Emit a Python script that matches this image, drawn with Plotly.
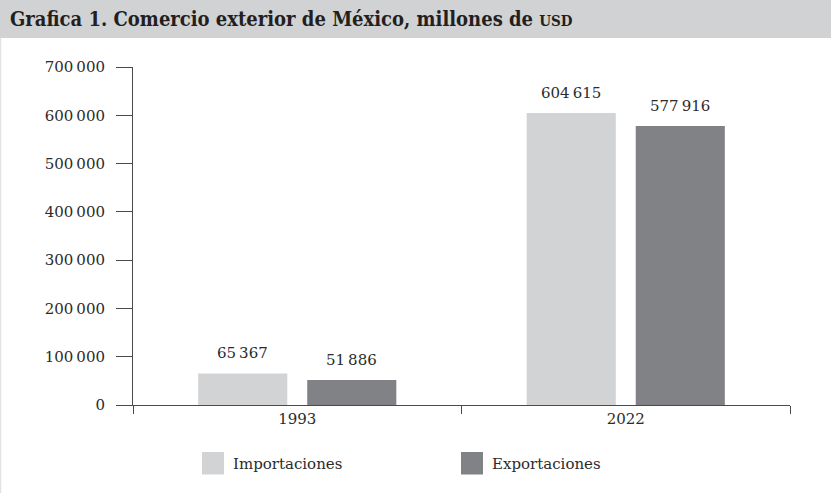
import plotly.graph_objects as go

categories = ["1993", "2022"]
importaciones = [65367, 604615]
exportaciones = [51886, 577916]
series_names = ["Importaciones", "Exportaciones"]
y_ticks = [0, 100000, 200000, 300000, 400000, 500000, 600000, 700000]

W, H = 831, 493
ML, MR, MT, MB = 133, 41, 67, 88
PW, PH = W - ML - MR, H - MT - MB

FONT = "DejaVu Serif"
TXT = "#2b2b2b"
C_IMP = "#d1d3d4"
C_EXP = "#808285"
AX = "#4a4a4a"


def fmt(v):
    return f"{v:,}".replace(",", "\u2009")


def px(x):
    return (x - ML) / PW


def py(y):
    return 1 - (y - MT) / PH


fig = go.Figure()
fig.add_trace(go.Bar(x=categories, y=importaciones, name=series_names[0],
                     marker=dict(color=C_IMP, line=dict(width=0)), showlegend=False))
fig.add_trace(go.Bar(x=categories, y=exportaciones, name=series_names[1],
                     marker=dict(color=C_EXP, line=dict(width=0)), showlegend=False))

annotations = []
for vals, shift in ((importaciones, -54.5), (exportaciones, 54.5)):
    for i, v in enumerate(vals):
        annotations.append(dict(x=i, y=v, xref="x", yref="y", text=fmt(v),
                                showarrow=False, yanchor="bottom", xanchor="center",
                                xshift=shift, yshift=9,
                                font=dict(family=FONT, size=15, color=TXT)))

# title
annotations.append(dict(x=px(8), y=py(19), xref="paper", yref="paper",
                        xanchor="left", yanchor="middle", showarrow=False,
                        text="<b>Grafica 1. Comercio exterior de México, millones de <span style='font-size:15px'>USD</span></b>",
                        font=dict(family="DejaVu Serif Condensed", size=20, color="#231f20")))

shapes = [
    dict(type="rect", xref="paper", yref="paper", x0=px(0), x1=px(W), y0=py(0), y1=py(38),
         fillcolor="#d1d2d4", line=dict(width=0), layer="below"),
    dict(type="line", xref="paper", yref="paper", x0=px(0.5), x1=px(0.5), y0=py(38), y1=py(H),
         line=dict(color="#e2e2e2", width=1.5)),
]

# legend (manual, large swatches)
for name, col, x0, tx in ((series_names[0], C_IMP, 202, 231), (series_names[1], C_EXP, 461, 490)):
    shapes.append(dict(type="rect", xref="paper", yref="paper", x0=px(x0), x1=px(x0 + 22),
                       y0=py(452), y1=py(474.5), fillcolor=col, line=dict(width=0)))
    annotations.append(dict(x=px(tx), y=py(463.5), xref="paper", yref="paper",
                            xanchor="left", yanchor="middle", showarrow=False, text=name,
                            font=dict(family=FONT, size=15, color=TXT)))

fig.update_layout(
    width=W, height=H,
    margin=dict(l=ML, r=MR, t=MT, b=MB, pad=0),
    paper_bgcolor="white", plot_bgcolor="white",
    barmode="group", bargap=0.336, bargroupgap=0.183,
    showlegend=False,
    font=dict(family=FONT, size=15, color=TXT),
    annotations=annotations, shapes=shapes,
    xaxis=dict(type="category", range=[-0.5, 1.5], tickson="boundaries",
               ticks="outside", ticklen=8, tickwidth=1, tickcolor=AX,
               showline=True, linecolor=AX, linewidth=1, showgrid=False,
               tickfont=dict(family=FONT, size=15, color=TXT), fixedrange=True),
    yaxis=dict(range=[0, 700000], tickvals=y_ticks, ticktext=[fmt(v) for v in y_ticks],
               ticks="outside", ticklen=16, tickwidth=1, tickcolor=AX,
               showline=True, linecolor=AX, linewidth=1, showgrid=False, zeroline=False,
               ticklabelstandoff=8,
               tickfont=dict(family=FONT, size=15, color=TXT), fixedrange=True),
)

fig.write_html("out.html", config={"displayModeBar": False})
